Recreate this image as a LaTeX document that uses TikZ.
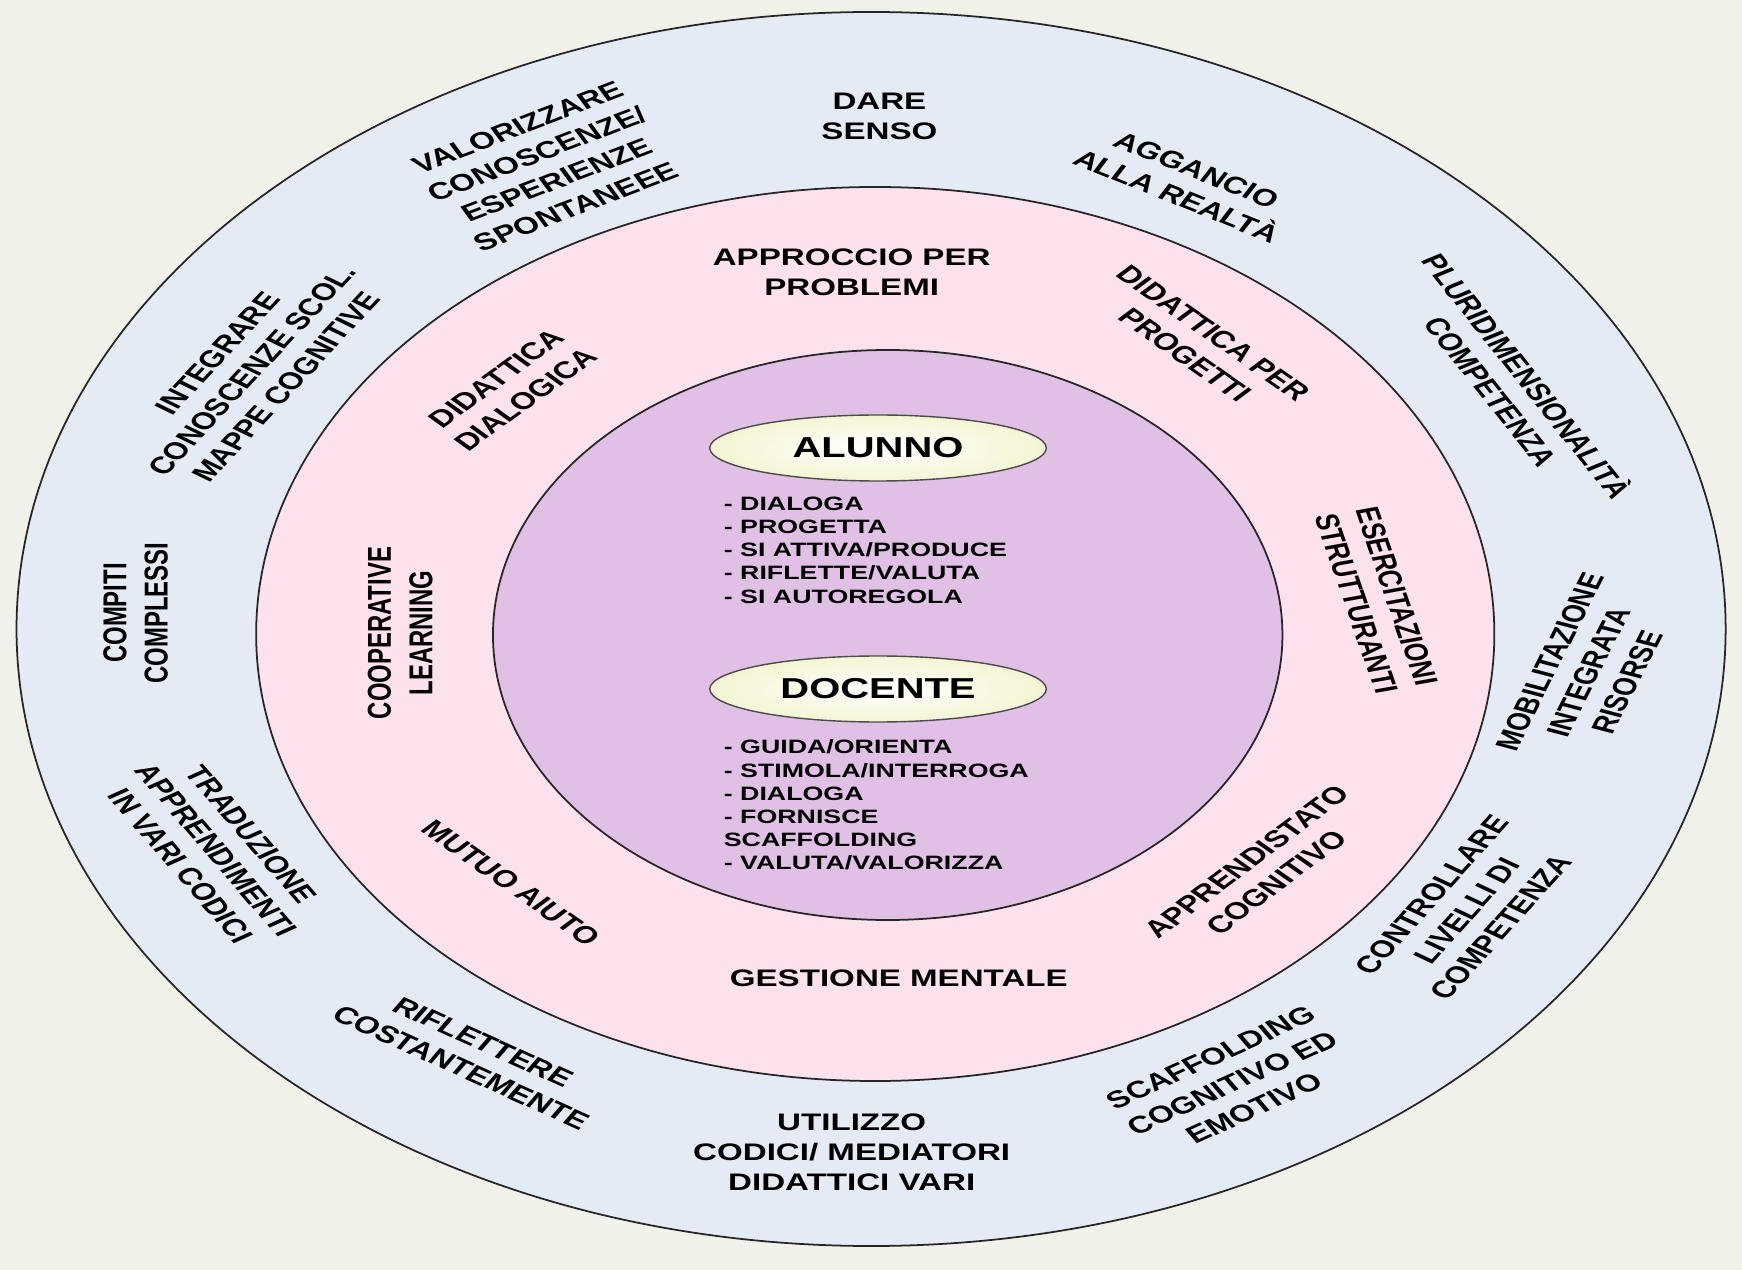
\documentclass[tikz,border=0pt]{standalone}
\usepackage{fontspec}
\setmainfont{Liberation Sans}
\usetikzlibrary{shapes.geometric}

\definecolor{sfondo}{RGB}{240,241,233}
\definecolor{esterno}{RGB}{229,235,245}
\definecolor{medio}{RGB}{253,226,238}
\definecolor{interno}{RGB}{224,192,229}
\definecolor{crema}{RGB}{244,244,212}

\tikzset{anello/.style={draw=black!85,line width=0.5pt,fill=#1},
anello/.default={white},
voce/.style={font=\bfseries\fontsize{6.8}{8.5}\selectfont,align=center,inner sep=0pt,rotate=#1},
voce/.default={0},
ruolo/.style={ellipse,draw=black!70,line width=0.4pt,inner color=white,outer color=crema,
  minimum width=2.43cm,minimum height=0.66cm,inner sep=0pt,font=\bfseries\fontsize{8.2}{9}\selectfont},
elenco/.style={font=\bfseries\fontsize{5.5}{6.6}\selectfont,align=left,anchor=west,inner sep=0pt}}

\begin{document}
\begin{tikzpicture}
\fill[sfondo] (0,0) rectangle (17.42,12.70);
\useasboundingbox (0,0) rectangle (17.42,12.70);
\begin{scope}[shift={(8.78,6.38)},xscale=1.385,transform shape]
% anelli
\draw[anello=esterno] (-0.05,0.03) circle (6.17);
\draw[anello=medio] (-0.02,-0.02) circle (4.47);
\draw[anello=interno] (0.07,-0.03) circle (2.85);

% anello esterno
\node[voce] (dare) at (0.01,5.16) {DARE\\SENSO};
\node[voce=-29] (aggancio) at (2.23,4.49) {AGGANCIO\\ALLA REALTÀ};
\node[voce=-60] (pluri) at (4.57,2.49) {PLURIDIMENSIONALITÀ\\COMPETENZA};
\node[voce=70] (mobilitazione) at (5.13,-0.40) {MOBILITAZIONE\\INTEGRATA\\RISORSE};
\node[voce=57] (controllare) at (4.25,-2.79) {CONTROLLARE\\LIVELLI DI\\COMPETENZA};
\node[voce=32] (scaffolding) at (2.56,-4.51) {SCAFFOLDING\\COGNITIVO ED\\EMOTIVO};
\node[voce] (utilizzo) at (-0.19,-5.20) {UTILIZZO\\CODICI/ MEDIATORI\\DIDATTICI VARI};
\node[voce=-32] (riflettere) at (-2.93,-4.23) {RIFLETTERE\\COSTANTEMENTE};
\node[voce=-58] (traduzione) at (-4.78,-2.18) {TRADUZIONE\\APPRENDIMENTI\\IN VARI CODICI};
\node[voce=90] (compiti) at (-5.36,0.19) {COMPITI\\COMPLESSI};
\node[voce=56] (integrare) at (-4.52,2.62) {INTEGRARE\\CONOSCENZE SCOL.\\MAPPE COGNITIVE};
\node[voce=28] (valorizzare) at (-2.39,4.65) {VALORIZZARE\\CONOSCENZE/\\ESPERIENZE\\SPONTANEEE};

% anello medio
\node[voce] (approccio) at (-0.19,3.60) {APPROCCIO PER\\PROBLEMI};
\node[voce=-44] (progetti) at (2.32,2.88) {DIDATTICA PER\\PROGETTI};
\node[voce=-76] (esercitazioni) at (3.60,0.32) {ESERCITAZIONI\\STRUTTURANTI};
\node[voce=46] (apprendistato) at (2.77,-2.40) {APPRENDISTATO\\COGNITIVO};
\node[voce] (gestione) at (0.15,-3.46) {GESTIONE MENTALE};
\node[voce=-44] (mutuo) at (-2.65,-2.51) {MUTUO AIUTO};
\node[voce=90] (cooperative) at (-3.45,-0.01) {COOPERATIVE\\LEARNING};
\node[voce=45] (dialogica) at (-2.65,2.43) {DIDATTICA\\DIALOGICA};

% centro
\node[ruolo] (alunno) at (0,1.84) {ALUNNO};
\node[elenco] (azioni) at (-1.12,0.82) {- DIALOGA\\- PROGETTA\\- SI ATTIVA/PRODUCE\\- RIFLETTE/VALUTA\\- SI AUTOREGOLA};
\node[ruolo] (docente) at (0,-0.57) {DOCENTE};
\node[elenco] (compiti docente) at (-1.12,-1.73) {- GUIDA/ORIENTA\\- STIMOLA/INTERROGA\\- DIALOGA\\- FORNISCE\\SCAFFOLDING\\- VALUTA/VALORIZZA};
\end{scope}
\end{tikzpicture}
\end{document}
